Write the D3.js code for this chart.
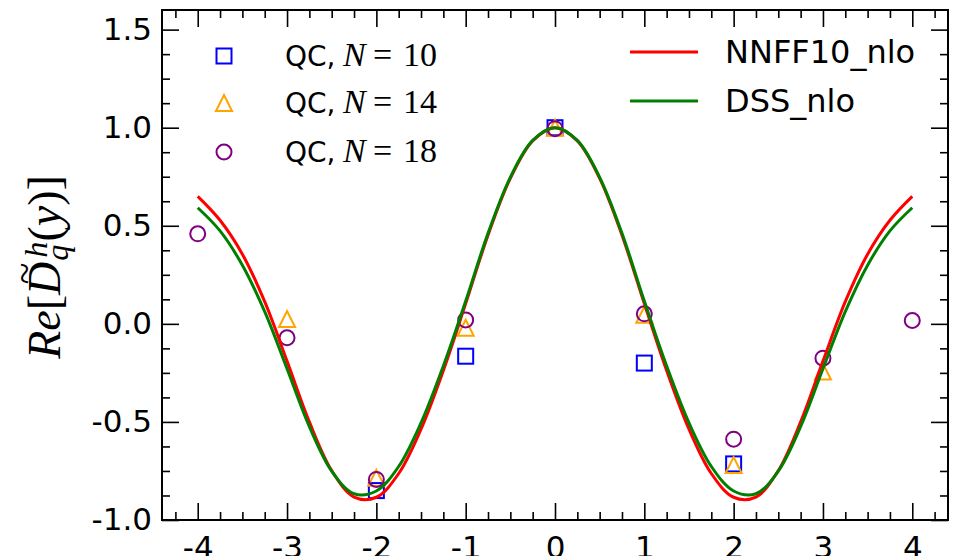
<!DOCTYPE html>
<html><head><meta charset="utf-8">
<script src="https://cdn.jsdelivr.net/npm/d3@7"></script>
<style>body{margin:0;background:#fff} svg{display:block}</style>
</head><body><svg id="c" width="976" height="556"></svg>
<script>
// ---- data ----
const curveX = [-4,-3.75,-3.5,-3.25,-3,-2.75,-2.5,-2.25,-2,-1.75,-1.5,-1.25,-1,-0.75,-0.5,-0.25,0,
                0.25,0.5,0.75,1,1.25,1.5,1.75,2,2.25,2.5,2.75,3,3.25,3.5,3.75,4];
const nnff10 = [0.650,0.528,0.355,0.113,-0.190,-0.500,-0.748,-0.883,-0.884,-0.763,-0.537,-0.238,0.103,0.452,0.742,0.933,1.000,
                0.933,0.742,0.452,0.103,-0.238,-0.537,-0.763,-0.884,-0.883,-0.748,-0.500,-0.190,0.113,0.355,0.528,0.650];
const dss    = [0.592,0.474,0.299,0.062,-0.229,-0.524,-0.751,-0.866,-0.852,-0.727,-0.505,-0.215,0.116,0.462,0.747,0.935,1.000,
                0.935,0.747,0.462,0.116,-0.215,-0.505,-0.727,-0.852,-0.866,-0.751,-0.524,-0.229,0.062,0.299,0.474,0.592];
const pointX = [-4,-3,-2,-1,0,1,2,3,4];
const qcN10 = [null,null,-0.85,-0.165,1.0,-0.20,-0.714,null,null];
const qcN14 = [null,0.025,-0.785,-0.02,1.0,0.046,-0.72,-0.243,null];
const qcN18 = [0.459,-0.071,-0.793,0.02,0.995,0.051,-0.588,-0.175,0.017];
const xTicks = [-4,-3,-2,-1,0,1,2,3,4];
const yTicks = [-1.0,-0.5,0.0,0.5,1.0,1.5];
const xMinor = [-4.25,-3.75,-3.5,-3.25,-2.75,-2.5,-2.25,-1.75,-1.5,-1.25,-0.75,-0.5,-0.25,0.25,0.5,0.75,1.25,1.5,1.75,2.25,2.5,2.75,3.25,3.5,3.75,4.25];
const yMinor = [-0.875,-0.75,-0.625,-0.375,-0.25,-0.125,0.125,0.25,0.375,0.625,0.75,0.875,1.125,1.25,1.375];
const seriesNames = ["10","14","18"];
const lineNames = ["NNFF10_nlo","DSS_nlo"];

// ---- layout ----
const svg = d3.select("#c");
const L=162, R=948, T=10, B=520;
const x = d3.scaleLinear().domain([-4.4,4.4]).range([L,R]);
const y = d3.scaleLinear().domain([-1.0,1.6]).range([B,T]);
const tickFont = "'DejaVu Sans', sans-serif";
const serif = "'Liberation Serif', 'Times New Roman', serif";
const colBlue="#0000ff", colOrange="#ffa500", colPurple="#800080", colRed="#ff0000", colGreen="#008000";

function styleAxis(g){
  g.select(".domain").remove();
  g.selectAll("line").attr("stroke","#000").attr("stroke-width",1.6);
  g.selectAll("text").attr("fill","#000").style("font-family",tickFont).style("font-size","31px");
}
svg.append("g").attr("transform",`translate(0,${B})`)
  .call(d3.axisBottom(x).tickValues(xTicks).tickSize(-17).tickSizeOuter(0).tickPadding(16).tickFormat(d=>String(d)))
  .call(styleAxis);
svg.append("g").attr("transform",`translate(0,${B})`)
  .call(d3.axisBottom(x).tickValues(xMinor).tickSize(-8).tickSizeOuter(0).tickFormat(""))
  .call(styleAxis);
svg.append("g").attr("transform",`translate(0,${T})`)
  .call(d3.axisTop(x).tickValues(xTicks).tickSize(-17).tickSizeOuter(0).tickFormat(""))
  .call(styleAxis);
svg.append("g").attr("transform",`translate(0,${T})`)
  .call(d3.axisTop(x).tickValues(xMinor).tickSize(-8).tickSizeOuter(0).tickFormat(""))
  .call(styleAxis);
svg.append("g").attr("transform",`translate(${L},0)`)
  .call(d3.axisLeft(y).tickValues(yTicks).tickSize(-17).tickSizeOuter(0).tickPadding(10).tickFormat(d=>d.toFixed(1)))
  .call(styleAxis);
svg.append("g").attr("transform",`translate(${L},0)`)
  .call(d3.axisLeft(y).tickValues(yMinor).tickSize(-8).tickSizeOuter(0).tickFormat(""))
  .call(styleAxis);
svg.append("g").attr("transform",`translate(${R},0)`)
  .call(d3.axisRight(y).tickValues(yTicks).tickSize(-17).tickSizeOuter(0).tickFormat(""))
  .call(styleAxis);
svg.append("g").attr("transform",`translate(${R},0)`)
  .call(d3.axisRight(y).tickValues(yMinor).tickSize(-8).tickSizeOuter(0).tickFormat(""))
  .call(styleAxis);
svg.append("rect").attr("x",L).attr("y",T).attr("width",R-L).attr("height",B-T)
  .attr("fill","none").attr("stroke","#000").attr("stroke-width",2);

// ---- markers ----
const sq = 7.5, tri = 8, rad = 7.5;
function drawMarker(g, kind, cx, cy){
  if(kind==="square") g.append("rect").attr("x",cx-sq).attr("y",cy-sq).attr("width",2*sq).attr("height",2*sq)
      .attr("fill","none").attr("stroke",colBlue).attr("stroke-width",2);
  else if(kind==="triangle") g.append("path").attr("d",`M${cx},${cy-tri}L${cx+tri},${cy+tri}L${cx-tri},${cy+tri}Z`)
      .attr("fill","none").attr("stroke",colOrange).attr("stroke-width",2);
  else g.append("circle").attr("cx",cx).attr("cy",cy).attr("r",rad)
      .attr("fill","none").attr("stroke",colPurple).attr("stroke-width",2);
}
const pts = svg.append("g");
[[qcN10,"square"],[qcN14,"triangle"],[qcN18,"circle"]].forEach(([vals,kind])=>{
  vals.forEach((v,i)=>{ if(v!==null) drawMarker(pts,kind,x(pointX[i]),y(v)); });
});

// ---- curves ----
const line = d3.line().x((d,i)=>x(curveX[i])).y(d=>y(d)).curve(d3.curveCatmullRom.alpha(0.5));
svg.append("path").attr("d",line(nnff10)).attr("fill","none").attr("stroke",colRed).attr("stroke-width",3);
svg.append("path").attr("d",line(dss)).attr("fill","none").attr("stroke",colGreen).attr("stroke-width",3);

// ---- legend (markers) ----
const legRows = [56,103,152];
const kinds = ["square","triangle","circle"];
legRows.forEach((ry,i)=>{
  drawMarker(svg,kinds[i],224,ry);
  const t = svg.append("text").attr("y",ry+10).attr("fill","#000");
  t.append("tspan").attr("x",285).style("font-family",tickFont).style("font-size","28px").text("QC,");
  t.append("tspan").attr("x",343).style("font-family",serif).style("font-style","italic").style("font-size","34px").text("N");
  t.append("tspan").attr("x",373).style("font-family",serif).style("font-size","34px").text("=");
  t.append("tspan").attr("x",403).style("font-family",serif).style("font-size","34px").text(seriesNames[i]);
});
// ---- legend (lines) ----
const lineRows = [52,101];
[colRed,colGreen].forEach((c,i)=>{
  svg.append("line").attr("x1",630).attr("x2",698).attr("y1",lineRows[i]).attr("y2",lineRows[i])
    .attr("stroke",c).attr("stroke-width",3);
  svg.append("text").attr("x",725).attr("y",lineRows[i]+11).attr("fill","#000")
    .style("font-family",tickFont).style("font-size","32px").text(lineNames[i]);
});

// ---- y label: Re[D~_q^h(y)] ----
const lab = svg.append("g").attr("transform","translate(60,267) rotate(-90)");
const fs = 46;
const pieces = [
  {t:"Re", it:true, s:1, dy:0},
  {t:"[", it:false, s:1, dy:0},
  {t:"D", it:true, s:1, dy:0, tilde:true},
  {t:"q", it:true, s:0.7, dy:8, stack:true},
  {t:"h", it:true, s:0.7, dy:-13, stackTop:true},
  {t:"(", it:false, s:1, dy:0},
  {t:"y", it:true, s:1, dy:0},
  {t:")]", it:false, s:1, dy:0}
];
let cx = 0, stackStart = 0;
const made = [];
pieces.forEach(p=>{
  const el = lab.append("text").attr("y",p.dy).attr("fill","#000")
    .style("font-family",serif).style("font-style",p.it?"italic":"normal").style("font-size",(fs*p.s)+"px").text(p.t);
  const w = el.node().getComputedTextLength();
  if(p.stack){ stackStart = cx; el.attr("x",cx+1); cx += w+2; }
  else if(p.stackTop){ el.attr("x",stackStart+4); cx = Math.max(cx, stackStart+4+w); }
  else { el.attr("x",cx); cx += w; }
  made.push({el,p,w,x0:+el.attr("x")});
});
const total = cx;
made.forEach(m=>m.el.attr("x",m.x0 - total/2));
const dPiece = made.find(m=>m.p.tilde);
lab.append("text").attr("x",dPiece.x0 - total/2 + dPiece.w/2 + 5).attr("y",-22).attr("text-anchor","middle")
  .style("font-family",serif).style("font-size","40px").attr("fill","#000").text("~");
</script></body></html>
